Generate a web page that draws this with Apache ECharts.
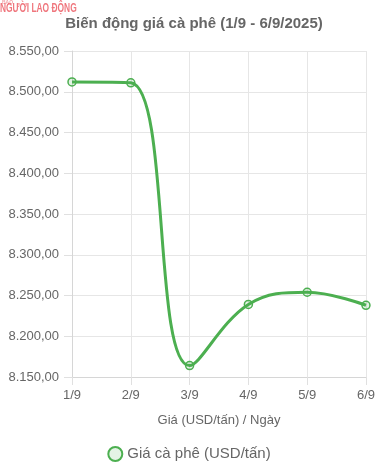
<!DOCTYPE html>
<html><head><meta charset="utf-8">
<script src="https://cdn.jsdelivr.net/npm/echarts@6/dist/echarts.min.js"></script>
<style>html,body{margin:0;padding:0;background:#fff}#c{width:378px;height:475px}</style>
</head><body><div id="c"></div>
<script>
const categories = ['1/9','2/9','3/9','4/9','5/9','6/9'];
const prices = [8512, 8511, 8164, 8239, 8254, 8238];
const yTicks = [8150, 8200, 8250, 8300, 8350, 8400, 8450, 8500, 8550];
const seriesName = 'Giá cà phê (USD/tấn)';
const titleText = 'Biến động giá cà phê (1/9 - 6/9/2025)';
const axisNameText = 'Giá (USD/tấn) / Ngày';

function fmt(v){
  const s = Math.round(v).toString().replace(/\B(?=(\d{3})+(?!\d))/g, '.');
  return s + ',00';
}
const chart = echarts.init(document.getElementById('c'), null, {renderer:'canvas'});
const font = 'Arial, "Liberation Sans", sans-serif';
chart.setOption({
  animation:false,
  title:{text:titleText,left:189,textAlign:'center',top:11,textStyle:{fontFamily:font,fontSize:15,fontWeight:'bold',color:'#666'}},
  graphic:[
    {type:'text',x:2,y:0,style:{text:'BÁO',fontSize:5,fontWeight:'bold',fill:'rgba(232,70,80,0.5)',fontFamily:font}},
    {type:'text',x:0,y:3,scaleX:0.7,style:{text:'NGƯỜI LAO ĐỘNG',fontSize:12,fontWeight:'bold',fill:'rgba(232,60,70,0.7)',fontFamily:font}},
    {type:'text',x:219,y:420,style:{text:axisNameText,fontSize:13,fill:'#666',fontFamily:font,align:'center',verticalAlign:'middle'}}
  ],
  legend:{data:[{name:seriesName,icon:'circle'}],left:'center',top:441,itemWidth:14,itemHeight:14,itemGap:8,
    textStyle:{fontFamily:font,fontSize:15,color:'#666'}},
  grid:{left:72,right:12,top:51,bottom:98,containLabel:false},
  xAxis:{type:'category',data:categories,boundaryGap:false,
    axisLine:{lineStyle:{color:'#d6d6d6'}},axisTick:{show:true,length:8,lineStyle:{color:'#e0e0e0'}},
    axisLabel:{color:'#666',fontFamily:font,fontSize:13,margin:12},
    splitLine:{show:true,lineStyle:{color:'#e6e6e6'}}},
  yAxis:{type:'value',min:8150,max:8550,interval:50,
    axisLine:{show:true,lineStyle:{color:'#d6d6d6'}},axisTick:{show:true,length:8,lineStyle:{color:'#e0e0e0'}},
    axisLabel:{color:'#666',fontFamily:font,fontSize:13,margin:13,formatter:fmt},
    splitLine:{show:true,lineStyle:{color:'#e6e6e6'}}},
  series:[{name:seriesName,type:'line',data:prices,smooth:0.4,
    symbol:'circle',symbolSize:8,
    lineStyle:{color:'#4caf50',width:3},
    itemStyle:{color:'rgba(76,175,80,0.15)',borderColor:'#4caf50',borderWidth:1.5}}]
});
</script></body></html>
